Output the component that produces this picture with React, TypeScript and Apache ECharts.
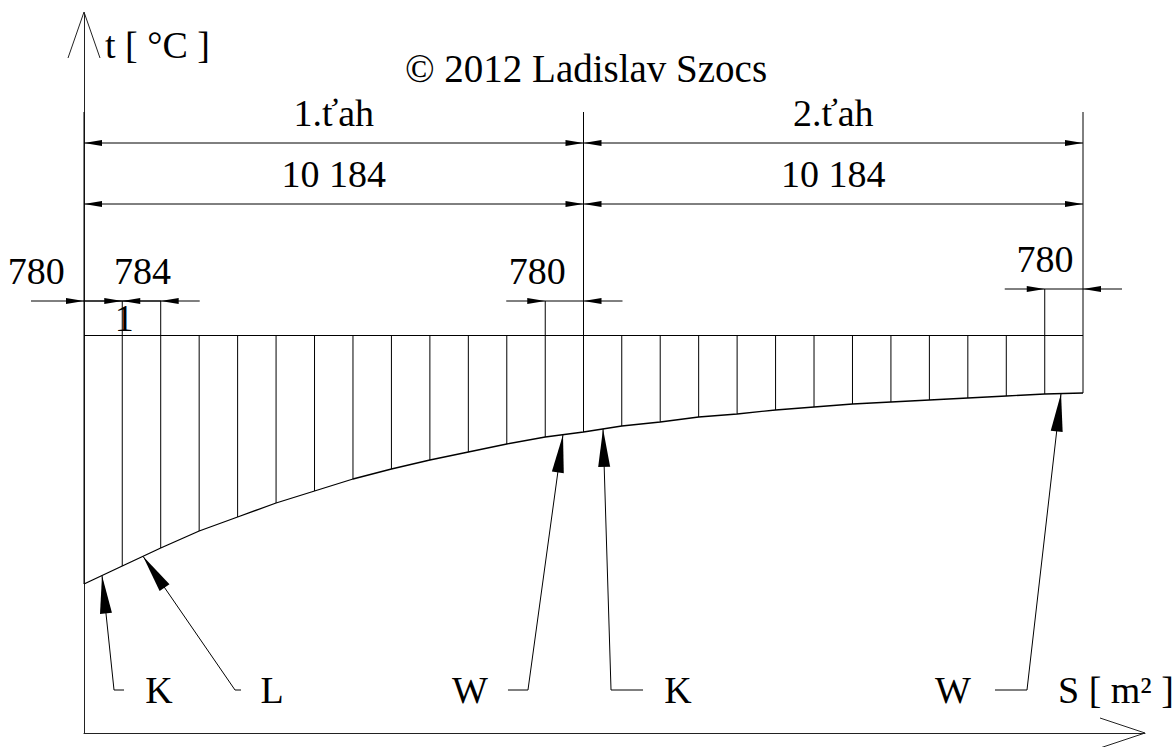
import React, { useEffect, useRef } from "react";
import * as echarts from "echarts";

// ---- data (S in mm along the exchanger, t in relative temperature units) ----
const S_EDGES = [
  0, 780, 1564, 2348, 3132, 3916, 4700, 5484, 6268, 7052, 7836, 8620, 9404, 10184,
  10964, 11748, 12532, 13316, 14100, 14884, 15668, 16452, 17236, 18020, 18804, 19588, 20368,
];
const T_CURVE = [
  37.25, 41.75, 46.25, 50.5, 54, 57.5, 60.5, 63.5, 66, 68.25, 70.25, 72.25, 74, 75.25,
  76.75, 77.75, 79, 79.75, 80.75, 81.5, 82.25, 82.75, 83.25, 83.75, 84.25, 84.75, 85,
];
const PLATE_TOP_T = 99.5;
const PASS_FROM = [0, 10184];
const PASS_TO = [10184, 20368];
const PASS_NAMES = ["1.ťah", "2.ťah"];
const PASS_LENGTHS = ["10 184", "10 184"];
const PLATE_LABEL = "1";
const CALLOUT_TEXT = ["K", "L", "W", "K", "W"];
const CALLOUT_TIP_S = [367, 1203, 9766, 10582, 19920];
const CALLOUT_FOOT_S = [612, 3079, 9052, 10745, 19226];
const X_NAME = "S [ m² ]";
const Y_NAME = "t [ °C ]";

// ---- layout / style ----
const FONT = "Liberation Serif";
const FS = 38;
const X_MAX = 21632;
const Y_MAX = 180;
const ELBOW_T = 10.75;
const AL = 18;
const AW = 3;

type Dim = { from: number; to: number; level: number; text: string; kind: "in" | "out"; dx: number; tailL?: number; tailR?: number };

const DIMS: Dim[] = [
  { from: PASS_FROM[0], to: PASS_TO[0], level: 147.5, text: PASS_NAMES[0], kind: "in", dx: 0 },
  { from: PASS_FROM[1], to: PASS_TO[1], level: 147.5, text: PASS_NAMES[1], kind: "in", dx: 0 },
  { from: PASS_FROM[0], to: PASS_TO[0], level: 132.25, text: PASS_LENGTHS[0], kind: "in", dx: 0 },
  { from: PASS_FROM[1], to: PASS_TO[1], level: 132.25, text: PASS_LENGTHS[1], kind: "in", dx: 0 },
  { from: S_EDGES[0], to: S_EDGES[1], level: 108, text: "780", kind: "out", dx: -67, tailL: 53, tailR: 39 },
  { from: S_EDGES[1], to: S_EDGES[2], level: 108, text: "784", kind: "out", dx: 1, tailL: 39, tailR: 39 },
  { from: S_EDGES[12], to: S_EDGES[13], level: 108, text: "780", kind: "out", dx: -27, tailL: 39, tailR: 39 },
  { from: S_EDGES[25], to: S_EDGES[26], level: 111, text: "780", kind: "out", dx: -19, tailL: 40, tailR: 39 },
];

const CALLOUT_STYLE = [
  { stub: 10, textDx: 45 },
  { stub: 6, textDx: 37 },
  { stub: -20, textDx: -58 },
  { stub: 32, textDx: 67 },
  { stub: -32, textDx: -74 },
];

function topFor(s: number): number {
  let top = PLATE_TOP_T;
  for (const d of DIMS) {
    if (d.from === s || d.to === s) {
      const over = d.kind === "in" ? 7.75 : 0;
      top = Math.max(top, d.level + over);
    }
  }
  return top;
}

function interpT(s: number): number {
  for (let i = 0; i < S_EDGES.length - 1; i++) {
    if (s >= S_EDGES[i] && s <= S_EDGES[i + 1]) {
      const f = (s - S_EDGES[i]) / (S_EDGES[i + 1] - S_EDGES[i]);
      return T_CURVE[i] + f * (T_CURVE[i + 1] - T_CURVE[i]);
    }
  }
  return T_CURVE[T_CURVE.length - 1];
}

const lineEl = (x1: number, y1: number, x2: number, y2: number, w = 1) => ({
  type: "line",
  shape: { x1, y1, x2, y2 },
  style: { stroke: "#000", lineWidth: w },
});

const hArrow = (x: number, y: number, dir: number) => ({
  type: "polygon",
  shape: { points: [[x, y], [x - dir * AL, y - AW], [x - dir * AL, y + AW]] },
  style: { fill: "#000" },
});

const textEl = (x: number, y: number, text: string, align = "center") => ({
  type: "text",
  x,
  y,
  style: { text, fontFamily: FONT, fontSize: FS, fill: "#000", align, verticalAlign: "middle" },
});

export default function App() {
  const ref = useRef<HTMLDivElement>(null);
  useEffect(() => {
    if (!ref.current) return;
    const chart = echarts.init(ref.current, null, { renderer: "svg" });
    const option: any = {
      animation: false,
      backgroundColor: "#fff",
      title: {
        text: "© 2012 Ladislav Szocs",
        left: 581,
        top: 44,
        textAlign: "center",
        textStyle: { fontFamily: FONT, fontSize: 39, fontWeight: "normal", color: "#000" },
      },
      grid: { left: 84, right: 28, top: 13, bottom: 14 },
      xAxis: {
        type: "value",
        min: 0,
        max: X_MAX,
        axisLine: { show: true, lineStyle: { color: "#222", width: 1 } },
        axisTick: { show: false },
        axisLabel: { show: false },
        splitLine: { show: false },
      },
      yAxis: {
        type: "value",
        min: 0,
        max: Y_MAX,
        name: Y_NAME,
        nameLocation: "end",
        nameGap: -32,
        nameTextStyle: { fontFamily: FONT, fontSize: FS, color: "#000", align: "left", verticalAlign: "middle", padding: [0, 0, 0, 21] },
        axisLine: { show: true, lineStyle: { color: "#222", width: 1 } },
        axisTick: { show: false },
        axisLabel: { show: false },
        splitLine: { show: false },
      },
      series: [
        {
          type: "line",
          name: "t",
          data: S_EDGES.map((s, i) => [s, T_CURVE[i]]),
          symbol: "none",
          lineStyle: { color: "#000", width: 1.3 },
          markLine: {
            silent: true,
            symbol: "none",
            label: { show: false },
            lineStyle: { color: "#000", width: 1, type: "solid" },
            data: [[{ coord: [S_EDGES[0], PLATE_TOP_T] }, { coord: [S_EDGES[S_EDGES.length - 1], PLATE_TOP_T] }]],
          },
        },
        {
          type: "custom",
          name: "plates",
          data: S_EDGES.map((s, i) => [s, T_CURVE[i], topFor(s)]),
          encode: { x: 0, y: [1, 2] },
          renderItem: (params: any, api: any) => {
            const s = api.value(0);
            const a = api.coord([s, api.value(2)]);
            const b = api.coord([s, api.value(1)]);
            const children: any[] = [lineEl(a[0], a[1], b[0], b[1])];
            if (params.dataIndex === 1) {
              const p = api.coord([s, PLATE_TOP_T + 4.25]);
              children.push(textEl(p[0] + 2, p[1], PLATE_LABEL));
            }
            return { type: "group", children };
          },
        },
        {
          type: "custom",
          name: "dimensions",
          data: DIMS.map((d) => [d.from, d.to, d.level]),
          encode: { x: [0, 1], y: 2 },
          renderItem: (params: any, api: any) => {
            const d = DIMS[params.dataIndex];
            const a = api.coord([d.from, d.level]);
            const b = api.coord([d.to, d.level]);
            const y = a[1];
            const children: any[] = [];
            if (d.kind === "in") {
              children.push(lineEl(a[0], y, b[0], y), hArrow(a[0], y, -1), hArrow(b[0], y, 1));
            } else {
              children.push(lineEl(a[0] - (d.tailL || 39), y, b[0] + (d.tailR || 39), y), hArrow(a[0], y, 1), hArrow(b[0], y, -1));
            }
            children.push(textEl((a[0] + b[0]) / 2 + d.dx, y - 30, d.text));
            return { type: "group", children };
          },
        },
        {
          type: "custom",
          name: "callouts",
          data: CALLOUT_TIP_S.map((s, i) => [s, interpT(s), CALLOUT_FOOT_S[i]]),
          encode: { x: [0, 2], y: 1 },
          renderItem: (params: any, api: any) => {
            const i = params.dataIndex;
            const st = CALLOUT_STYLE[i];
            const tip = api.coord([api.value(0), api.value(1)]);
            const foot = api.coord([api.value(2), ELBOW_T]);
            const dx = tip[0] - foot[0];
            const dy = tip[1] - foot[1];
            const len = Math.sqrt(dx * dx + dy * dy);
            const ux = dx / len;
            const uy = dy / len;
            const L = 38;
            const W = 6;
            const bx = tip[0] - ux * L;
            const by = tip[1] - uy * L;
            const nx = -uy;
            const ny = ux;
            return {
              type: "group",
              children: [
                lineEl(foot[0], foot[1], tip[0], tip[1]),
                lineEl(foot[0], foot[1], foot[0] + st.stub, foot[1]),
                {
                  type: "polygon",
                  shape: { points: [[tip[0], tip[1]], [bx + nx * W, by + ny * W], [bx - nx * W, by - ny * W]] },
                  style: { fill: "#000" },
                },
                textEl(foot[0] + st.textDx, foot[1], CALLOUT_TEXT[i]),
              ],
            };
          },
        },
        {
          type: "custom",
          name: "axisArrows",
          data: [[0, 0]],
          renderItem: (_params: any, api: any) => {
            const yt = api.coord([0, Y_MAX]);
            const xt = api.coord([X_MAX, 0]);
            const nm = api.coord([X_MAX, ELBOW_T]);
            return {
              type: "group",
              children: [
                {
                  type: "polyline",
                  shape: { points: [[yt[0] - 16, yt[1] + 45], [yt[0], yt[1] - 1], [yt[0] + 16, yt[1] + 45]] },
                  style: { stroke: "#222", lineWidth: 1, fill: "none" },
                },
                {
                  type: "polyline",
                  shape: { points: [[xt[0] - 45, xt[1] - 15], [xt[0], xt[1]], [xt[0] - 45, xt[1] + 15]] },
                  style: { stroke: "#222", lineWidth: 1, fill: "none" },
                },
                textEl(nm[0] - 87, nm[1], X_NAME, "left"),
              ],
            };
          },
        },
      ],
    };
    chart.setOption(option);
    return () => chart.dispose();
  }, []);
  return <div ref={ref} style={{ position: "absolute", left: 0, top: 0, width: 1173, height: 747 }} />;
}
